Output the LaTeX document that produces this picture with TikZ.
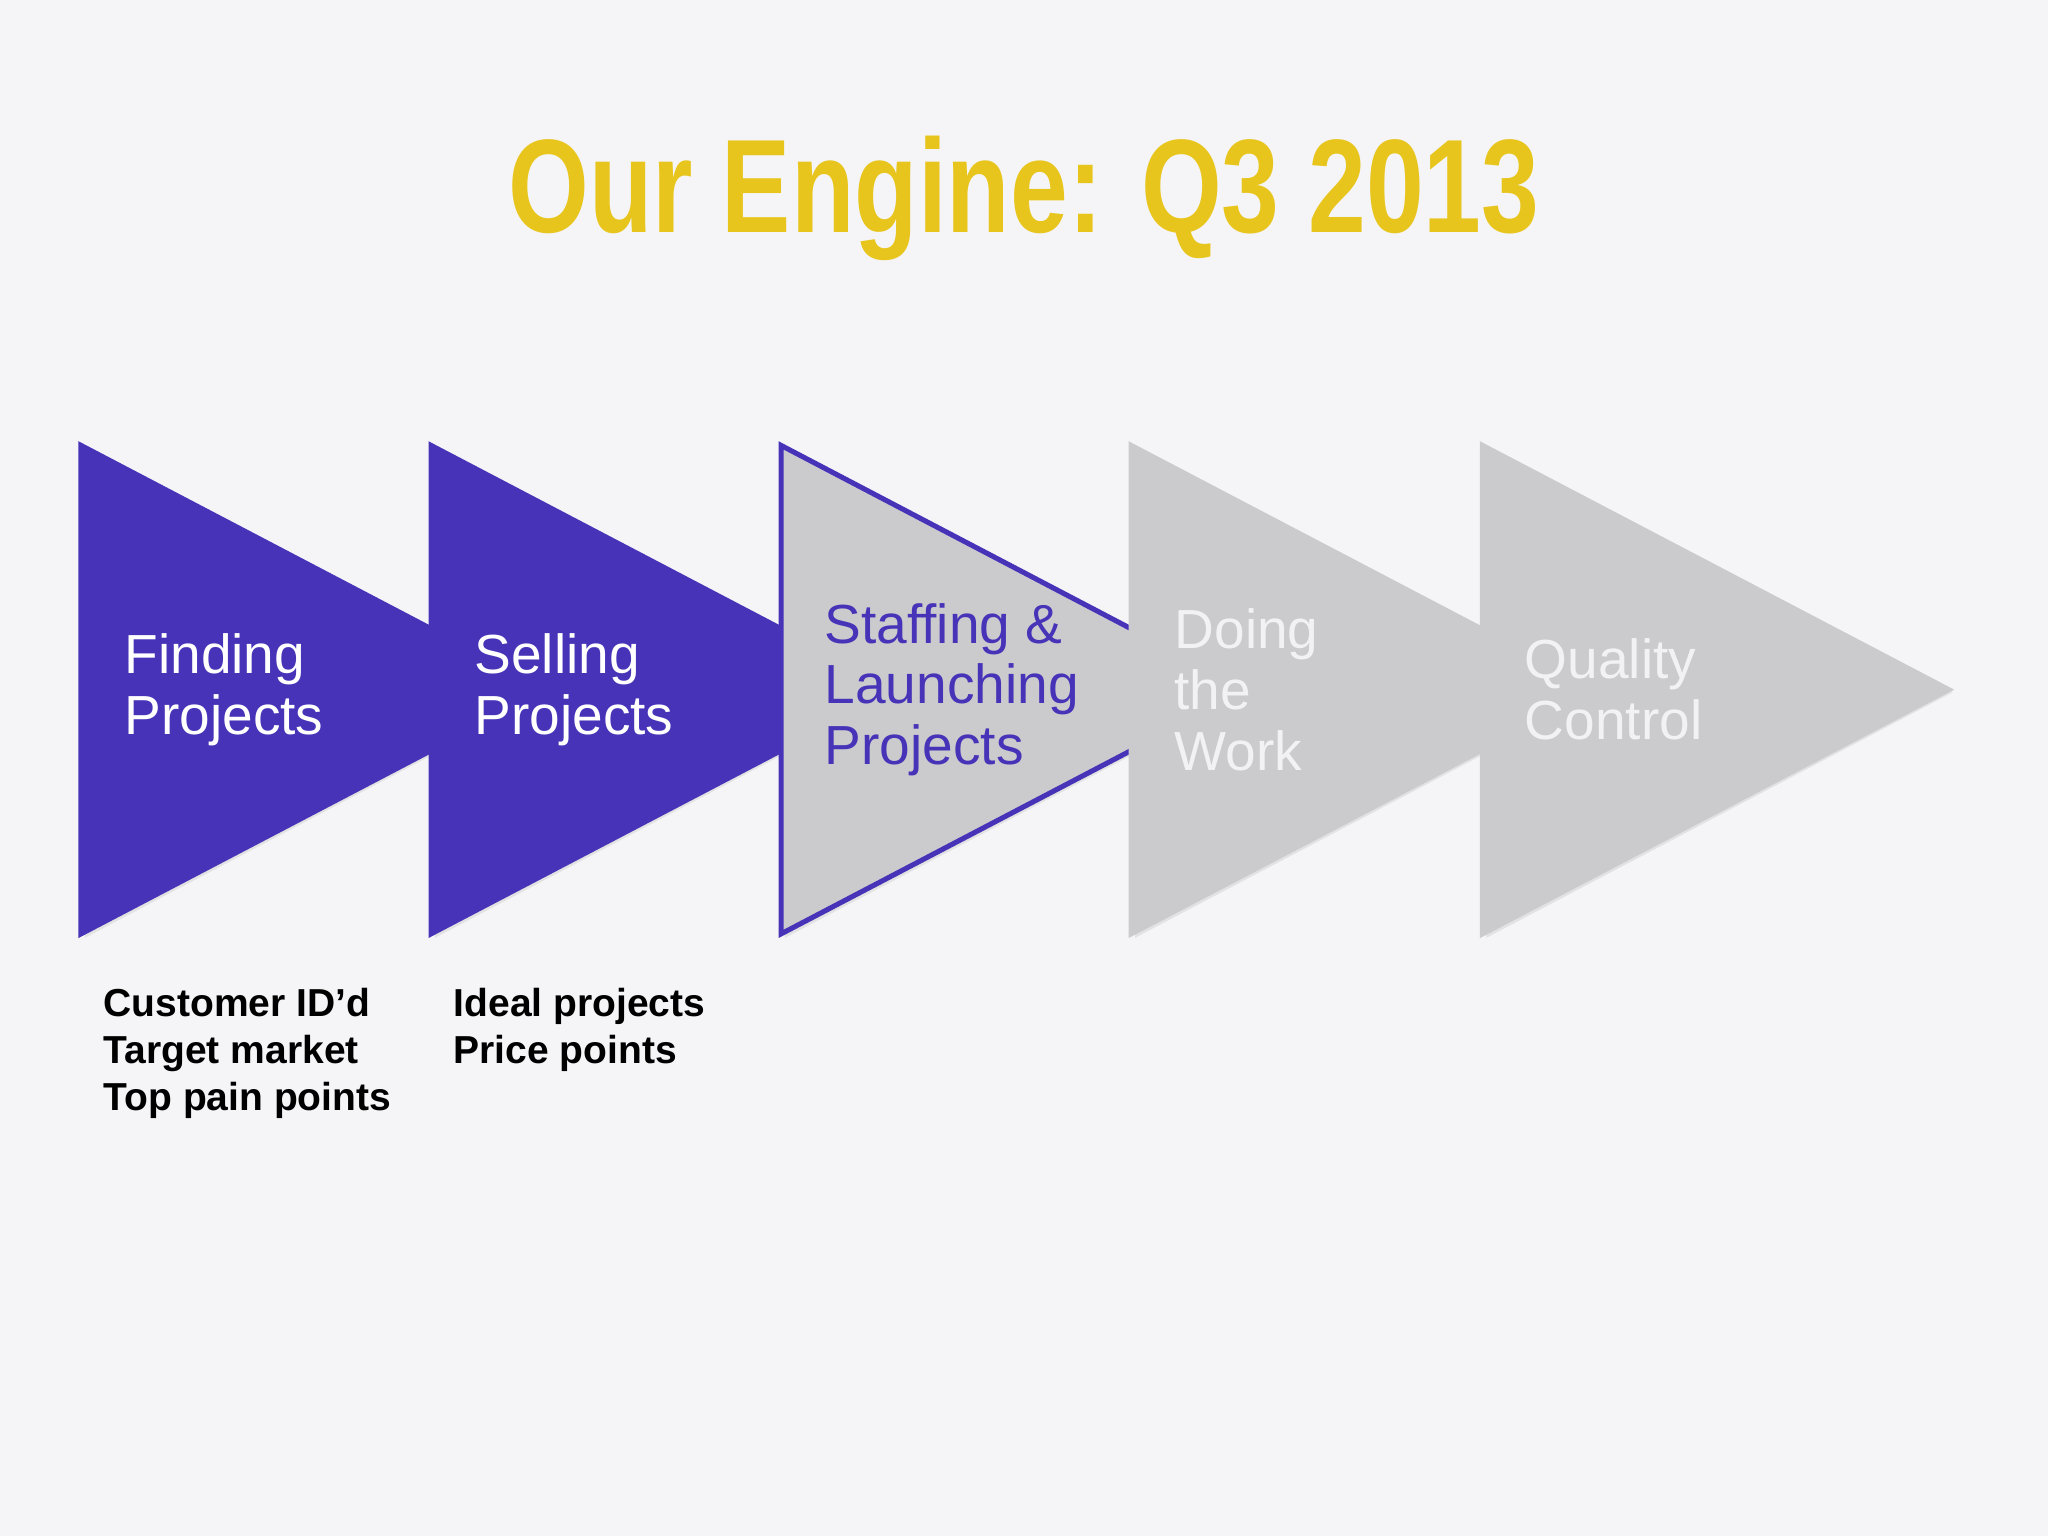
\documentclass[tikz,border=0pt]{standalone}
\usepackage{fontspec}
\setmainfont{Liberation Sans}
\newfontfamily\titlefont[FakeStretch=0.78]{Liberation Sans}
\definecolor{bg}{HTML}{F5F5F7}
\definecolor{eblue}{HTML}{4633B8}
\definecolor{egrey}{HTML}{CBCACD}
\definecolor{etitle}{HTML}{E8C51C}
\definecolor{elight}{HTML}{F2F2F4}
\begin{document}
\begin{tikzpicture}[x=0.02cm,y=-0.02cm,
  tri/.style={line join=miter},
  lab/.style={anchor=west,align=left,font=\fontsize{24}{26.5}\selectfont,inner sep=0pt},
  sub/.style={anchor=north west,align=left,font=\fontsize{17}{20.5}\selectfont\bfseries,inner sep=0pt}]
\fill[bg] (0,0) rectangle (1568,1176);
\node[font=\titlefont\bfseries\fontsize{58}{60}\selectfont,text=etitle] (title) at (784,152) {Our Engine: Q3 2013};
\foreach \x/\f/\d in {62/eblue/eblue,330/eblue/eblue,598/egrey/eblue,866/egrey/egrey,1135/egrey/egrey}{
  \fill[black!25,opacity=0.35] (\x+3,342) -- (\x+360,530) -- (\x+3,718) -- cycle;
  \filldraw[fill=\f,draw=\d,line width=2.2pt,tri] (\x,341) -- (\x+357,528) -- (\x,715) -- cycle;
}
\node[lab,text=white] (t1) at (95,528) {Finding\\Projects};
\node[lab,text=white] (t2) at (363,528) {Selling\\Projects};
\node[lab,text=eblue] (t3) at (631,528) {Staffing \&\\Launching\\Projects};
\node[lab,text=elight] (t4) at (899,528) {Doing\\the\\Work};
\node[lab,text=elight] (t5) at (1167,528) {Quality\\Control};
\node[sub] (s1) at (79,756) {Customer ID’d\\Target market\\Top pain points};
\node[sub] (s2) at (347,756) {Ideal projects\\Price points};
\end{tikzpicture}
\end{document}
